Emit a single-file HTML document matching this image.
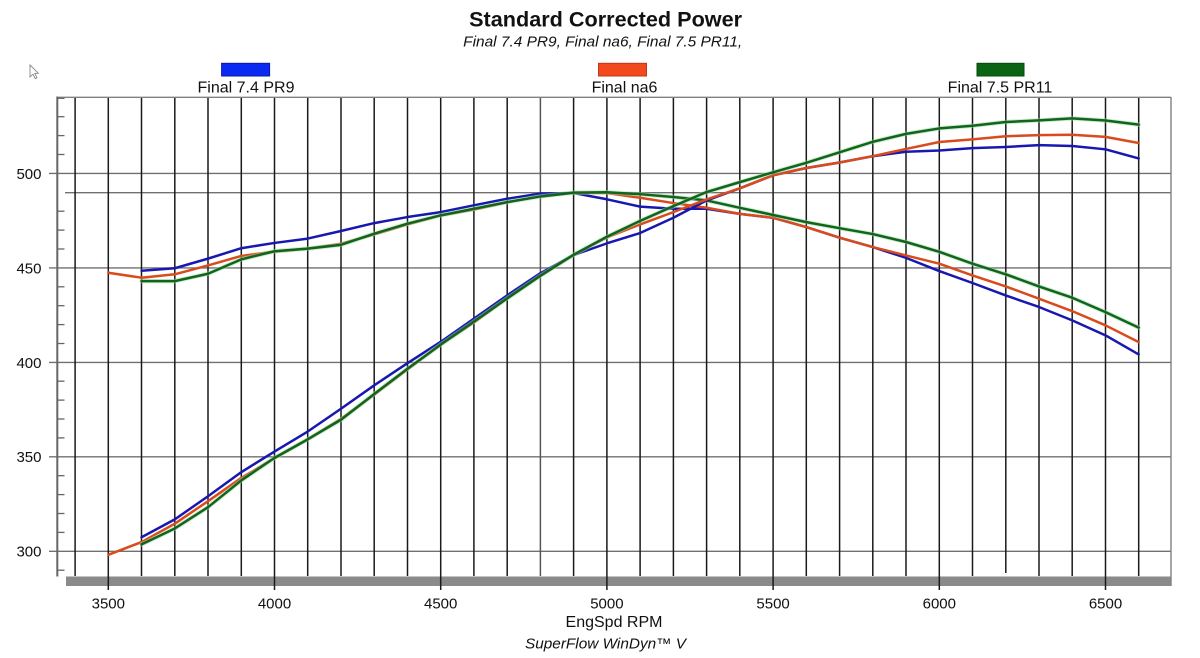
<!DOCTYPE html>
<html>
<head>
<meta charset="utf-8">
<style>
html,body{margin:0;padding:0;background:#fff;width:1200px;height:658px;overflow:hidden;}
svg{display:block;}
text{font-family:"Liberation Sans",Arial,sans-serif;fill:#111;}
</style>
</head>
<body>
<svg width="1200" height="658" viewBox="0 0 1200 658" xmlns="http://www.w3.org/2000/svg">
<rect x="0" y="0" width="1200" height="658" fill="#ffffff"/>

<!-- Title -->
<text x="605.6" y="26.7" font-size="21.5" font-weight="bold" text-anchor="middle" textLength="273" lengthAdjust="spacingAndGlyphs">Standard Corrected Power</text>
<text x="602.7" y="46.5" font-size="15" font-style="italic" text-anchor="middle" textLength="279" lengthAdjust="spacingAndGlyphs">Final 7.4 PR9, Final na6, Final 7.5 PR11,</text>

<!-- cursor -->
<path d="M30,65 L30,77 L33,74.2 L35.3,78.6 L37,77.8 L34.8,73.4 L38.3,73.2 Z" fill="#fff" stroke="#888" stroke-width="0.9"/>

<!-- Legend -->
<rect x="221.6" y="63.3" width="48" height="12.7" fill="#0a2af2" stroke="#0a1aa8" stroke-width="1"/>
<text x="246" y="92.5" font-size="16" text-anchor="middle">Final 7.4 PR9</text>
<rect x="598.5" y="63.3" width="48" height="12.7" fill="#f24a1c" stroke="#c0361a" stroke-width="1"/>
<text x="624.5" y="92.5" font-size="16" text-anchor="middle">Final na6</text>
<rect x="977" y="63.3" width="47" height="12.7" fill="#0b6414" stroke="#074a0c" stroke-width="1"/>
<text x="1000" y="92.5" font-size="16" text-anchor="middle">Final 7.5 PR11</text>

<!-- gray bottom bar -->
<rect x="66" y="576.5" width="1105.5" height="9.5" fill="#8a8a8a"/>

<!-- horizontal grid lines -->
<g stroke="#707070" stroke-width="1.4">
<line x1="49" y1="551.3" x2="1171" y2="551.3"/>
<line x1="49" y1="456.8" x2="1171" y2="456.8"/>
<line x1="49" y1="362.4" x2="1171" y2="362.4"/>
<line x1="49" y1="267.9" x2="1171" y2="267.9"/>
<line x1="49" y1="173.4" x2="1171" y2="173.4"/>
<line x1="65" y1="192.7" x2="1171" y2="192.7"/>
</g>

<!-- vertical grid lines -->
<g stroke="#1a1a1a" stroke-width="1.5">
<line x1="75.1" y1="97" x2="75.1" y2="576"/>
<line x1="108.3" y1="97" x2="108.3" y2="590"/>
<line x1="141.5" y1="97" x2="141.5" y2="576"/>
<line x1="174.8" y1="97" x2="174.8" y2="576"/>
<line x1="208.0" y1="97" x2="208.0" y2="576"/>
<line x1="241.3" y1="97" x2="241.3" y2="576"/>
<line x1="274.5" y1="97" x2="274.5" y2="590"/>
<line x1="307.7" y1="97" x2="307.7" y2="576"/>
<line x1="341.0" y1="97" x2="341.0" y2="576"/>
<line x1="374.2" y1="97" x2="374.2" y2="576"/>
<line x1="407.5" y1="97" x2="407.5" y2="576"/>
<line x1="440.7" y1="97" x2="440.7" y2="590"/>
<line x1="473.9" y1="97" x2="473.9" y2="576"/>
<line x1="507.2" y1="97" x2="507.2" y2="576"/>
<line x1="540.4" y1="97" x2="540.4" y2="576" stroke="#555"/>
<line x1="573.6" y1="97" x2="573.6" y2="576"/>
<line x1="606.9" y1="97" x2="606.9" y2="590"/>
<line x1="640.1" y1="97" x2="640.1" y2="576"/>
<line x1="673.4" y1="97" x2="673.4" y2="576"/>
<line x1="706.6" y1="97" x2="706.6" y2="576"/>
<line x1="739.8" y1="97" x2="739.8" y2="576"/>
<line x1="773.1" y1="97" x2="773.1" y2="590"/>
<line x1="806.3" y1="97" x2="806.3" y2="576"/>
<line x1="839.6" y1="97" x2="839.6" y2="576"/>
<line x1="872.8" y1="97" x2="872.8" y2="576"/>
<line x1="906.0" y1="97" x2="906.0" y2="576"/>
<line x1="939.3" y1="97" x2="939.3" y2="590"/>
<line x1="972.5" y1="97" x2="972.5" y2="576"/>
<line x1="1005.8" y1="97" x2="1005.8" y2="573"/>
<line x1="1039.0" y1="97" x2="1039.0" y2="576"/>
<line x1="1072.2" y1="97" x2="1072.2" y2="576"/>
<line x1="1105.5" y1="97" x2="1105.5" y2="590"/>
<line x1="1138.7" y1="97" x2="1138.7" y2="576"/>
</g>

<!-- frame -->
<line x1="57" y1="97.3" x2="1171" y2="97.3" stroke="#808080" stroke-width="1.4"/>
<line x1="1171" y1="97" x2="1171" y2="586" stroke="#808080" stroke-width="1.4"/>
<line x1="57.3" y1="96.5" x2="57.3" y2="576.5" stroke="#666" stroke-width="2"/>

<!-- minor ticks -->
<g stroke="#666" stroke-width="1.3">
<line x1="57" y1="570.2" x2="64.5" y2="570.2"/>
<line x1="57" y1="532.4" x2="64.5" y2="532.4"/>
<line x1="57" y1="513.5" x2="64.5" y2="513.5"/>
<line x1="57" y1="494.6" x2="64.5" y2="494.6"/>
<line x1="57" y1="475.7" x2="64.5" y2="475.7"/>
<line x1="57" y1="437.9" x2="64.5" y2="437.9"/>
<line x1="57" y1="419.0" x2="64.5" y2="419.0"/>
<line x1="57" y1="400.1" x2="64.5" y2="400.1"/>
<line x1="57" y1="381.2" x2="64.5" y2="381.2"/>
<line x1="57" y1="343.5" x2="64.5" y2="343.5"/>
<line x1="57" y1="324.6" x2="64.5" y2="324.6"/>
<line x1="57" y1="305.7" x2="64.5" y2="305.7"/>
<line x1="57" y1="286.8" x2="64.5" y2="286.8"/>
<line x1="57" y1="249.0" x2="64.5" y2="249.0"/>
<line x1="57" y1="230.1" x2="64.5" y2="230.1"/>
<line x1="57" y1="211.2" x2="64.5" y2="211.2"/>
<line x1="57" y1="154.5" x2="64.5" y2="154.5"/>
<line x1="57" y1="135.6" x2="64.5" y2="135.6"/>
<line x1="57" y1="116.7" x2="64.5" y2="116.7"/>
<line x1="57" y1="98.3" x2="64.5" y2="98.3"/>
</g>

<!-- Y labels -->
<g font-size="15" text-anchor="end">
<text x="41.5" y="178.8">500</text>
<text x="41.5" y="273.3">450</text>
<text x="41.5" y="367.8">400</text>
<text x="41.5" y="462.2">350</text>
<text x="41.5" y="556.7">300</text>
</g>

<!-- X labels -->
<g font-size="15" text-anchor="middle">
<text x="108.3" y="608.5">3500</text>
<text x="274.5" y="608.5">4000</text>
<text x="440.7" y="608.5">4500</text>
<text x="606.9" y="608.5">5000</text>
<text x="773.1" y="608.5">5500</text>
<text x="939.3" y="608.5">6000</text>
<text x="1105.5" y="608.5">6500</text>
</g>
<text x="614" y="627" font-size="16" text-anchor="middle">EngSpd RPM</text>
<text x="605.5" y="648.3" font-size="14.5" font-style="italic" text-anchor="middle" textLength="161" lengthAdjust="spacingAndGlyphs">SuperFlow WinDyn™ V</text>

<!-- data curves -->
<g transform="matrix(33.239 0 0 -1.8895 -1055.065 1118.15)" fill="none" stroke-linejoin="round" stroke-linecap="round">
<!-- torque family -->
<polyline vector-effect="non-scaling-stroke" stroke="#1818b0" stroke-width="2.5" points="36,448.5 37,449.8 38,454.9 39,460.4 40,463.2 41,465.5 42,469.5 43,473.7 44,476.9 45,479.5 46,483.1 47,486.6 48,489.3 49,489.6 50,486.3 51,482.4 52,481.3 53,481.3 54,478.6 55,476.5 56,471.6 57,466 58,461 59,455.3 60,448.3 61,442 62,435.4 63,429.3 64,422.2 65,414.3 66,404.2"/>
<polyline vector-effect="non-scaling-stroke" stroke="#d94a1c" stroke-width="2.5" points="35,447.4 36,444.8 37,446.6 38,451.3 39,456.3 40,458.6 41,460.2 42,462.8 43,467.7 44,473 45,477.8 46,480.8 47,484.8 48,487.8 49,489.7 50,489.6 51,487.1 52,484.3 53,481.8 54,478.6 55,476.5 56,471.6 57,466 58,461 59,456.6 60,452.2 61,446 62,440.2 63,433.7 64,427.1 65,419.6 66,410.7"/>
<polyline vector-effect="non-scaling-stroke" stroke="#9fdc9f" stroke-opacity="0.5" stroke-width="4.5" points="36,443 37,443 38,446.9 39,454.5 40,458.8 41,460.2 42,462.2 43,468.1 44,473.4 45,477.8 46,481.3 47,484.8 48,487.8 49,489.8 50,490 51,489 52,487.5 53,485.7 54,481.8 55,478 56,474.2 57,471 58,467.9 59,463.7 60,458.5 61,452.2 62,446.6 63,440.2 64,434.2 65,426.6 66,418.4"/>
<polyline vector-effect="non-scaling-stroke" stroke="#11641d" stroke-width="2.5" points="36,443 37,443 38,446.9 39,454.5 40,458.8 41,460.2 42,462.2 43,468.1 44,473.4 45,477.8 46,481.3 47,484.8 48,487.8 49,489.8 50,490 51,489 52,487.5 53,485.7 54,481.8 55,478 56,474.2 57,471 58,467.9 59,463.7 60,458.5 61,452.2 62,446.6 63,440.2 64,434.2 65,426.6 66,418.4"/>
<!-- power family -->
<polyline vector-effect="non-scaling-stroke" stroke="#1818b0" stroke-width="2.5" points="36,307.42 37,316.88 38,329.13 39,341.88 40,352.78 41,363.39 42,375.46 43,387.84 44,399.54 45,410.85 46,423.13 47,435.46 48,447.19 49,456.79 50,462.97 51,468.44 52,476.54 53,485.7 54,492.09 55,499 56,502.85 57,505.75 58,509.1 59,511.47 60,512.15 61,513.37 62,513.99 63,514.96 64,514.48 65,512.75 66,507.94"/>
<polyline vector-effect="non-scaling-stroke" stroke="#d94a1c" stroke-width="2.5" points="35,298.15 36,304.89 37,314.63 38,326.53 39,338.83 40,349.27 41,359.25 42,370.1 43,382.92 44,396.27 45,409.39 46,421.11 47,433.85 48,445.82 49,456.88 50,466.11 51,473 52,479.51 53,486.2 54,492.09 55,499 56,502.85 57,505.75 58,509.1 59,512.94 60,516.6 61,518.01 62,519.66 63,520.24 64,520.46 65,519.31 66,516.11"/>
<polyline vector-effect="non-scaling-stroke" stroke="#9fdc9f" stroke-opacity="0.5" stroke-width="4.5" points="36,303.65 37,312.09 38,323.35 39,337.5 40,349.43 41,359.25 42,369.62 43,383.25 44,396.61 45,409.39 46,421.55 47,433.85 48,445.82 49,456.97 50,466.49 51,474.85 52,482.67 53,490.14 54,495.38 55,500.57 56,505.62 57,511.18 58,516.72 59,520.91 60,523.8 61,525.21 62,527.21 63,528.04 64,529.11 65,527.97 66,525.79"/>
<polyline vector-effect="non-scaling-stroke" stroke="#11641d" stroke-width="2.5" points="36,303.65 37,312.09 38,323.35 39,337.5 40,349.43 41,359.25 42,369.62 43,383.25 44,396.61 45,409.39 46,421.55 47,433.85 48,445.82 49,456.97 50,466.49 51,474.85 52,482.67 53,490.14 54,495.38 55,500.57 56,505.62 57,511.18 58,516.72 59,520.91 60,523.8 61,525.21 62,527.21 63,528.04 64,529.11 65,527.97 66,525.79"/>
</g>
</svg>
</body>
</html>
